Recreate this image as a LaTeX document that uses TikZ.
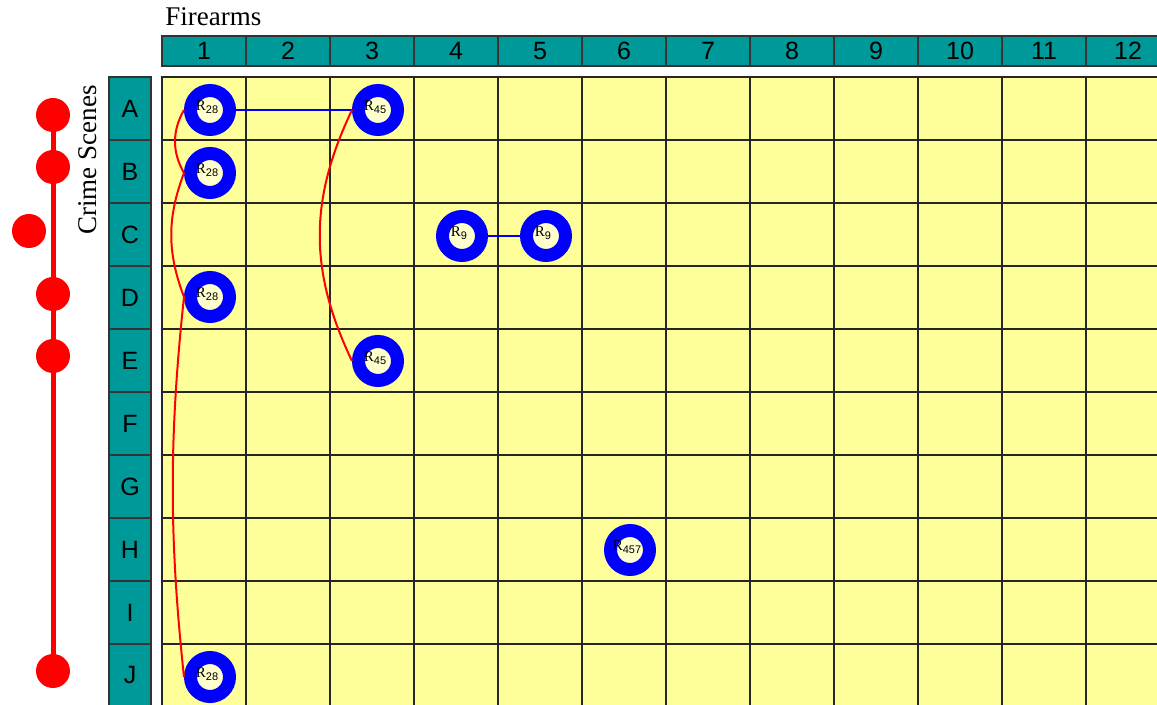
\documentclass[tikz,border=0pt]{standalone}
\usepackage{fontspec}
\setmainfont{Liberation Serif}
\newfontfamily\headfont{Liberation Sans}
\usetikzlibrary{positioning}
\definecolor{headteal}{RGB}{0,153,153}
\definecolor{cellyellow}{RGB}{255,255,153}
\definecolor{holeyellow}{RGB}{255,255,205}
\definecolor{ringblue}{RGB}{0,0,255}

\begin{document}
\begin{tikzpicture}[x=0.5pt,y=-0.5pt,
        headcell/.style={draw=black!80, fill=headteal, line width=0.8pt, inner sep=0pt,
          minimum width=42pt, minimum height=15pt, font=\headfont\fontsize{12.5}{13}\selectfont},
        rowcell/.style={headcell, minimum width=21pt, minimum height=31.5pt},
        gridcell/.style={draw=black!85, fill=cellyellow, line width=0.9pt},
        ring/.style={circle, draw=ringblue, fill=holeyellow, line width=6.5pt,
          minimum size=19.5pt, inner sep=0pt},
        tag/.style={inner sep=0pt, font=\fontsize{7.5}{7.5}\selectfont},
        dot/.style={circle, fill=red, minimum size=17pt, inner sep=0pt},
        bond/.style={draw=ringblue, line width=1pt},
        link/.style={draw=red, line width=1pt}
      ]
      \useasboundingbox (0,0) rectangle (1157,705);
      \clip (0,0) rectangle (1157,705);
      % titles
      \node[anchor=base west, inner sep=0pt, font=\fontsize{13.5}{14}\selectfont] (title) at (165,26) {Firearms};
      \node[rotate=90, inner sep=0pt, font=\fontsize{13.5}{14}\selectfont] (scenes) at (88,160) {Crime Scenes};
      % headers
      \foreach \c in {1,...,12} {
        \node[headcell] (col\c) at ({204+84*(\c-1)},51) {\c};
      }
      \foreach \r [count=\i from 0] in {A,...,J} {
        \node[rowcell] (row\r) at (130,{108.5+63*\i}) {\r};
      }
      % grid
      \foreach \c in {0,...,12} {
        \foreach \r in {0,...,9} {
          \draw[gridcell] ({162+84*\c},{77+63*\r}) rectangle +(84,63);
        }
      }
      % timeline
      \node[dot] (d1) at (53,115) {};
      \node[dot] (d2) at (53,167) {};
      \node[dot] (d3) at (29,231) {};
      \node[dot] (d4) at (53,294) {};
      \node[dot] (d5) at (53,356) {};
      \node[dot] (d6) at (53,671) {};
      \draw[red, line width=2.5pt] (d1.center) -- (d6.center);
      % rings
      \node[ring] (rA1) at (210,110) {};
      \node[ring] (rB1) at (210,173) {};
      \node[ring] (rD1) at (210,297) {};
      \node[ring] (rJ1) at (210,677) {};
      \node[ring] (rA3) at (378,110) {};
      \node[ring] (rE3) at (378,361) {};
      \node[ring] (rC4) at (462,236) {};
      \node[ring] (rC5) at (546,236) {};
      \node[ring] (rH6) at (630,550) {};
      % links
      \draw[bond] (rA1.east) -- (rA3.west);
      \draw[bond] (rC4.east) -- (rC5.west);
      % labels
      \foreach \n/\v in {rA1/28, rB1/28, rD1/28, rJ1/28, rA3/45, rE3/45, rC4/9, rC5/9, rH6/457} {
        \node[tag] at ([xshift=-1.5pt, yshift=1.5pt]\n.center)
          {R\raisebox{-1.8pt}{\headfont\fontsize{5.5}{5.5}\selectfont\v}};
      }
      % red curves
      \draw[link] (rA1.west) .. controls +(-12,21) and +(-12,-21) .. (rB1.west);
      \draw[link] (rB1.west) .. controls +(-17,45) and +(-17,-45) .. (rD1.west);
      \draw[link] (rD1.west) .. controls +(-15,140) and +(-15,-140) .. (rJ1.west);
      \draw[link] (rA3.west) .. controls +(-43,90) and +(-43,-90) .. (rE3.west);
    \end{tikzpicture}
\end{document}
